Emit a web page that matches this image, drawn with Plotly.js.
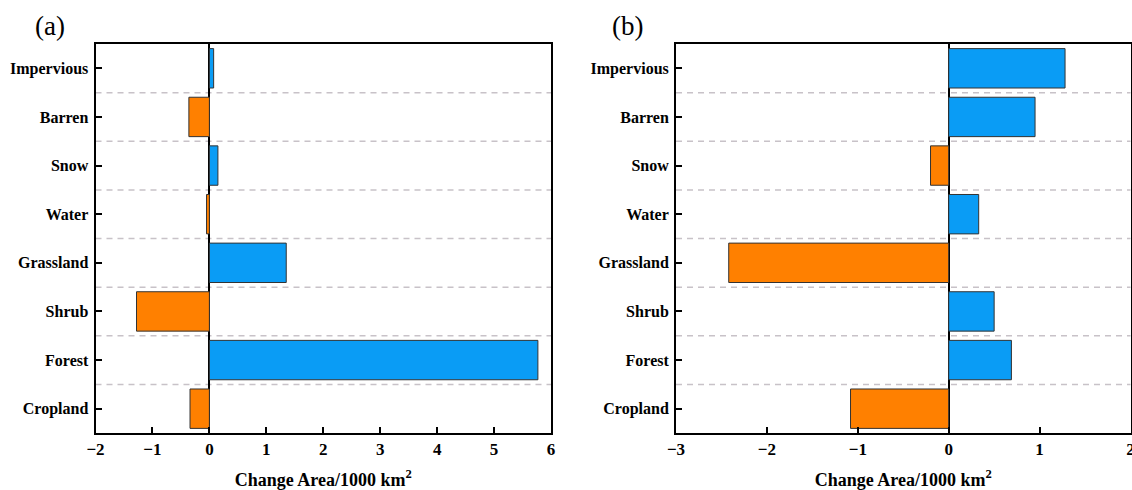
<!DOCTYPE html>
<html>
<head>
<meta charset="utf-8">
<script src="https://cdn.plot.ly/plotly-3.0.1.min.js"></script>
<style>
html,body{margin:0;padding:0;background:#fff;}
#chart{width:1132px;height:490px;}
</style>
</head>
<body>
<div id="chart"></div>
<script>
const categories = ['Cropland','Forest','Shrub','Grassland','Water','Snow','Barren','Impervious'];
const valuesA = [-0.34, 5.77, -1.28, 1.35, -0.05, 0.15, -0.36, 0.075];
const valuesB = [-1.08, 0.69, 0.50, -2.42, 0.33, -0.20, 0.95, 1.28];
const xTitle = 'Change Area/1000 km<sup>2</sup>';
const panelLabels = ['(a)', '(b)'];

const BLUE = '#0A9CF5', ORANGE = '#FF8000';
const colorFor = v => v >= 0 ? BLUE : ORANGE;
const serif = 'Liberation Serif';

function barTrace(vals, xa, ya) {
  return {
    type: 'bar', orientation: 'h', y: categories, x: vals,
    xaxis: xa, yaxis: ya,
    marker: { color: vals.map(colorFor), line: { color: '#333333', width: 1 } },
    hoverinfo: 'x+y', showlegend: false
  };
}

function xAxis(domain, range, anchor) {
  return {
    domain: domain, range: range, anchor: anchor, dtick: 1, tick0: 0,
    showline: true, linecolor: '#000', linewidth: 2, mirror: true,
    ticks: 'inside', ticklen: 6, tickwidth: 2, tickcolor: '#000',
    showgrid: false, zeroline: true, zerolinecolor: '#000', zerolinewidth: 1.5,
    tickfont: { family: serif, size: 17, color: '#000', weight: 'bold' },
    ticklabeloverflow: 'allow',
    title: { text: xTitle, font: { family: serif, size: 18, color: '#000', weight: 'bold' }, standoff: 16 },
    fixedrange: true, automargin: false
  };
}
function yAxis(anchor) {
  return {
    anchor: anchor, type: 'category', range: [-0.5, 7.5],
    showline: true, linecolor: '#000', linewidth: 2, mirror: true,
    ticks: 'inside', ticklen: 6, tickwidth: 2, tickcolor: '#000',
    showgrid: false, zeroline: false,
    tickfont: { family: serif, size: 16, color: '#000', weight: 'bold' },
    ticklabelstandoff: 2,
    fixedrange: true, automargin: false
  };
}

const shapes = [];
[['x', 'y'], ['x2', 'y2']].forEach(([xa, ya]) => {
  for (let i = 0; i < categories.length - 1; i++) {
    shapes.push({
      type: 'line', xref: xa + ' domain', yref: ya, x0: 0, x1: 1, y0: i + 0.5, y1: i + 0.5,
      line: { color: '#C8C2C8', width: 1.5, dash: '6px,5px' }, layer: 'below'
    });
  }
});

const layout = {
  width: 1132, height: 490,
  margin: { l: 0, r: 0, t: 43.5, b: 56.5 },
  paper_bgcolor: '#ffffff', plot_bgcolor: '#ffffff',
  bargap: 0.19,
  xaxis: xAxis([95.5 / 1132, 551 / 1132], [-2, 6], 'y'),
  yaxis: yAxis('x'),
  xaxis2: xAxis([676 / 1132, 1130.5 / 1132], [-3, 2], 'y2'),
  yaxis2: yAxis('x2'),
  shapes: shapes,
  annotations: [
    { text: panelLabels[0], xref: 'paper', yref: 'paper', x: 50 / 1132, y: 1 + 18 / 390, xanchor: 'center', yanchor: 'middle', showarrow: false, font: { family: serif, size: 27, color: '#000' } },
    { text: panelLabels[1], xref: 'paper', yref: 'paper', x: 628 / 1132, y: 1 + 18 / 390, xanchor: 'center', yanchor: 'middle', showarrow: false, font: { family: serif, size: 27, color: '#000' } }
  ]
};

Plotly.newPlot('chart', [barTrace(valuesA, 'x', 'y'), barTrace(valuesB, 'x2', 'y2')], layout, { displayModeBar: false });
</script>
</body>
</html>
